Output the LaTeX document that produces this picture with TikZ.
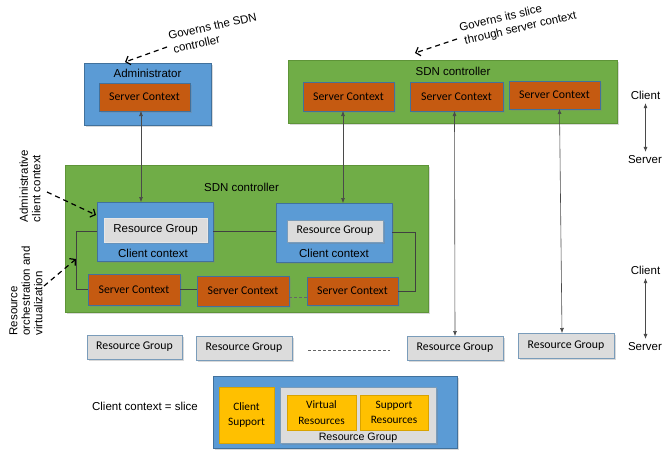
\documentclass[tikz,border=0pt]{standalone}
\usepackage{fontspec}
\setmainfont{Liberation Sans}
\newfontfamily\carl{Carlito}
\usetikzlibrary{arrows.meta,shadows,calc}
\definecolor{blu}{HTML}{5B9BD5}
\definecolor{bluD}{HTML}{41719C}
\definecolor{grn}{HTML}{70AD47}
\definecolor{grnD}{HTML}{5E9438}
\definecolor{org}{HTML}{C55A11}
\definecolor{gry}{HTML}{DCDCDC}
\definecolor{yel}{HTML}{FFC000}
\definecolor{lin}{HTML}{4A4A4A}
\begin{document}
\begin{tikzpicture}[x=1pt,y=-1pt,
 every node/.style={inner sep=0pt, outer sep=0pt},
 shd/.style={drop shadow={opacity=0.3,shadow xshift=1.5pt,shadow yshift=-1.5pt}},
 bluebox/.style={shd,draw=bluD,fill=blu,line width=0.8pt},
 greenbox/.style={shd,draw=grnD,fill=grn,line width=0.8pt},
 scbox/.style={shd,draw=bluD,fill=org,line width=0.8pt,font=\carl\fontsize{11.8}{13}\selectfont,text=black},
 rgbox/.style={shd,draw=bluD!70,fill=gry,line width=0.8pt,font=\carl\fontsize{11.8}{13}\selectfont},
 ybox/.style={draw=yel!85!black,fill=yel,line width=0.5pt,font=\carl\fontsize{11.3}{15.5}\selectfont,align=center},
 lbl/.style={font=\fontsize{11.5}{13}\selectfont},
 rot/.style={font=\fontsize{11.5}{12.5}\selectfont,rotate=90,align=left},
 dbl/.style={draw=lin,line width=0.6pt,{Latex[length=5pt,width=4pt]}-{Latex[length=5pt,width=4pt]}},
 gov/.style={draw=black,dash pattern=on 5pt off 4pt,line width=1.2pt,-{Straight Barb[length=4pt,width=9pt]}},
 link/.style={draw=black!75,line width=0.6pt},
 dots/.style={draw=black!60,line width=0.6pt,dash pattern=on 3pt off 2pt},
]
\useasboundingbox (0,0) rectangle (662,453);

% Administrator
\node[bluebox,minimum width=127pt,minimum height=62pt] (adm) at (147.5,94) {};
\node[lbl] (admt) at (147.5,73) {Administrator};
\node[scbox,minimum width=91pt,minimum height=28pt] (admsc) at (144.5,97) {Server Context};

% top SDN controller
\node[greenbox,minimum width=329pt,minimum height=63pt] (sdn1) at (452.5,91.5) {};
\node[lbl] (sdn1t) at (453,71) {SDN controller};
\node[scbox,minimum width=91pt,minimum height=29pt] (sca) at (348.5,96.5) {Server Context};
\node[scbox,minimum width=93pt,minimum height=29pt] (scb) at (456.5,96.5) {Server Context};
\node[scbox,minimum width=91pt,minimum height=28pt] (scc) at (554.5,95) {Server Context};

% middle SDN controller
\node[greenbox,minimum width=363pt,minimum height=147pt] (sdn2) at (246.5,238.5) {};
\node[lbl] (sdn2t) at (241.5,187) {SDN controller};
\node[bluebox,minimum width=116pt,minimum height=59pt] (cc1) at (155,231.5) {};
\node[rgbox,draw=gry!70!white,font=\fontsize{11.5}{13}\selectfont,minimum width=103pt,minimum height=24pt] (rg1) at (155.5,230) {Resource Group};
\node[lbl] (cc1t) at (153,253) {Client context};
\node[bluebox,minimum width=116pt,minimum height=59pt] (cc2) at (334,232.5) {};
\node[rgbox,minimum width=96pt,minimum height=22pt] (rg2) at (335,231) {Resource Group};
\node[lbl] (cc2t) at (334,253.5) {Client context};
\node[scbox,minimum width=92pt,minimum height=31pt] (sc1) at (134,289.5) {Server Context};
\node[scbox,minimum width=92pt,minimum height=30pt] (sc2) at (243,291) {Server Context};
\node[scbox,minimum width=91pt,minimum height=28pt] (sc3) at (352.5,291) {Server Context};

% links inside
\draw[link] (cc1.east) -- (cc1.east -| cc2.west);
\draw[link] (cc1.west) -- ++(-21,0) |- (sc1.west);
\draw[link] (sc1.east) -- (sc1.east -| sc2.west);
\draw[dots] ($(sc2.east)+(0,6)$) -- ($(sc3.west)+(0,6)$);
\draw[link] (cc2.east) -- ++(23,0) |- (sc3.east);

% bottom resource groups
\node[rgbox,minimum width=95pt,minimum height=24pt] (rga) at (134.5,347) {Resource Group};
\node[rgbox,minimum width=96pt,minimum height=24pt] (rgb) at (244,348) {Resource Group};
\node[rgbox,minimum width=96pt,minimum height=24pt] (rgc) at (455,348) {Resource Group};
\node[rgbox,minimum width=96pt,minimum height=25pt] (rgd) at (566,345.5) {Resource Group};
\draw[dots] ($(rgb.east)+(16,2)$) -- ($(rgc.west)+(-17,2)$);

% client-server arrows
\coordinate (a1) at ($(admsc.south)+(-3.5,0)$);
\draw[dbl] (a1) -- (a1 |- cc1.north);
\coordinate (a2) at ($(sca.south)+(-5.5,0)$);
\draw[dbl] (a2) -- (a2 |- cc2.north);
\draw[dbl] ($(scb.south)+(-2,0)$) -- (rgc.north);
\draw[dbl] ($(scc.south)+(5,0)$) -- ($(rgd.north)+(-4,0)$);

% Client / Server legend
\node[lbl] (cl1) at (645.5,95) {Client};
\node[lbl,anchor=west] (sv1) at (628,160) {Server};
\coordinate (c1a) at ($(cl1.south)+(0,4)$);
\coordinate (c1b) at (c1a |- sv1.north);
\draw[dbl] (c1a) -- ($(c1b)+(0,-4)$);
\node[lbl] (cl2) at (645.5,270) {Client};
\node[lbl,anchor=west] (sv2) at (628,347) {Server};
\coordinate (c2a) at ($(cl2.south)+(0,4)$);
\coordinate (c2b) at (c2a |- sv2.north);
\draw[dbl] (c2a) -- ($(c2b)+(0,-4)$);

% governs annotations
\node[font=\fontsize{11.5}{14}\selectfont,rotate=12.5,align=left] (gov1) at (214,33) {Governs the SDN\\\hspace*{2pt}controller};
\coordinate (g1a) at (167,47);
\draw[gov] (g1a) -- ($(adm.north west)+(41,-1)$);
\node[font=\fontsize{11.5}{14}\selectfont,rotate=13,align=left] (gov2) at (518,22) {Governs its slice\\\hspace*{2pt}through server context};
\coordinate (g2a) at (457,39);
\coordinate (g2b) at (415,53);
\draw[gov] (g2a) -- (g2b);

% left annotations
\node[rot] (admctx) at (30,186) {Administrative\\client context};
\coordinate (g3a) at (47,192);
\draw[gov] (g3a) -- ($(cc1.north west)+(-1,13)$);
\node[rot] (resorch) at (26,291) {Resource\\orchestration and\\virtualization};
\coordinate (g4a) at (44,286);
\coordinate (g4b) at (76,259);
\draw[gov] (g4a) -- (g4b);

% slice legend
\node[lbl] (slice) at (145,406) {Client context = slice};
\node[bluebox,minimum width=244pt,minimum height=72pt] (sl) at (335,412) {};
\node[ybox,minimum width=55pt,minimum height=56pt] (cs) at (246.5,415) {Client\\Support};
\node[rgbox,minimum width=156pt,minimum height=56pt] (rgbig) at (358,415) {};
\node[font=\fontsize{10.7}{12}\selectfont] (rgbigt) at (358,438) {Resource Group};
\node[ybox,minimum width=69pt,minimum height=35pt] (vr) at (321.5,412.5) {Virtual\\Resources};
\node[ybox,minimum width=68pt,minimum height=35pt] (sr) at (394,412.5) {Support\\Resources};
\end{tikzpicture}
\end{document}
